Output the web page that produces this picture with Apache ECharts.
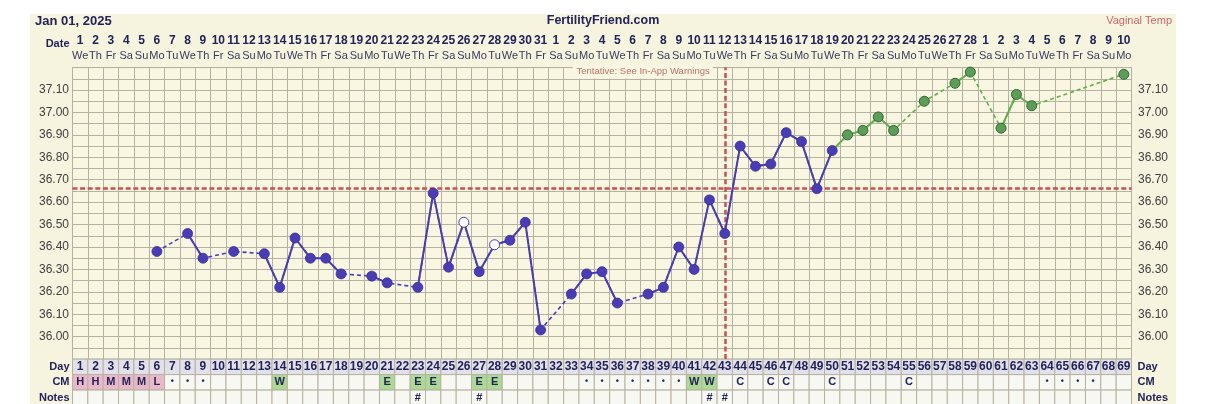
<!DOCTYPE html>
<html><head><meta charset="utf-8">
<script src="https://cdn.jsdelivr.net/npm/echarts@6/dist/echarts.min.js"></script>
<style>
html,body{margin:0;padding:0;background:#ffffff;}
#wrap{position:relative;width:1206px;height:404px;overflow:hidden;}
#panel{position:absolute;left:30px;top:13.5px;width:1146px;height:420px;background:#f6f3de;}
#c{position:absolute;left:0;top:0;width:1206px;height:404px;}
</style>
</head><body>
<div id="wrap"><div id="panel"></div><div id="c"></div></div>
<script>
// ---------- data ----------
const cycleDays = ['1','2','3','4','5','6','7','8','9','10','11','12','13','14','15','16','17','18','19','20','21','22','23','24','25','26','27','28','29','30','31','32','33','34','35','36','37','38','39','40','41','42','43','44','45','46','47','48','49','50','51','52','53','54','55','56','57','58','59','60','61','62','63','64','65','66','67','68','69'];
const dateLabels = ['1','2','3','4','5','6','7','8','9','10','11','12','13','14','15','16','17','18','19','20','21','22','23','24','25','26','27','28','29','30','31','1','2','3','4','5','6','7','8','9','10','11','12','13','14','15','16','17','18','19','20','21','22','23','24','25','26','27','28','1','2','3','4','5','6','7','8','9','10'];
const weekdayLabels = ['We','Th','Fr','Sa','Su','Mo','Tu','We','Th','Fr','Sa','Su','Mo','Tu','We','Th','Fr','Sa','Su','Mo','Tu','We','Th','Fr','Sa','Su','Mo','Tu','We','Th','Fr','Sa','Su','Mo','Tu','We','Th','Fr','Sa','Su','Mo','Tu','We','Th','Fr','Sa','Su','Mo','Tu','We','Th','Fr','Sa','Su','Mo','Tu','We','Th','Fr','Sa','Su','Mo','Tu','We','Th','Fr','Sa','Su','Mo'];
const temps = [null,null,null,null,null,36.38,null,36.46,36.35,null,36.38,null,36.37,36.22,36.44,36.35,36.35,36.28,null,36.27,36.24,null,36.22,36.64,36.31,36.51,36.29,36.41,36.43,36.51,36.03,null,36.19,36.28,36.29,36.15,null,36.19,36.22,36.40,36.30,36.61,36.46,36.85,36.76,36.77,36.91,36.87,36.66,36.83,36.90,36.92,36.98,36.92,null,37.05,null,37.13,37.18,null,36.93,37.08,37.03,null,null,null,null,null,37.17];
const openDays = ['26','28'];
const greenStartDay = '50';
const coverline = 36.665;
const ovulationDay = '43';
const tempTickLabels = ['36.00','36.10','36.20','36.30','36.40','36.50','36.60','36.70','36.80','36.90','37.00','37.10'];
const tableRowNames = ['Day','CM','Notes'];
const cmCodes = ['H','H','M','M','M','L','•','•','•','','','','','W','','','','','','','E','','E','E','','','E','E','','','','','','•','•','•','•','•','•','•','W','W','','C','','C','C','','','C','','','','','C','','','','','','','','','•','•','•','•',''];
const noteMarks = ['','','','','','','','','','','','','','','','','','','','','','','#','','','','#','','','','','','','','','','','','','','','#','#','','','','','','','','','','','','','','','','','','','','','','','','','',''];

// ---------- styles ----------
const FONT = '"Liberation Sans", Arial, sans-serif';
const NAVY = '#23235a';
const PURPLE = '#4a3cb6';
const GREEN_LINE = '#62b04c';
const GREEN_PT = '#5c9d57';
const RED = '#c9524f';
const GRIDC = '#b5b2a2';
const pinkCodes = ['H','M','L'];
const greenCodes = ['W','E'];

const chart = echarts.init(document.getElementById('c'), null, {renderer:'canvas'});

const gIdx = cycleDays.indexOf(greenStartDay);
const purpleVals = temps.map((v,i)=> i<=gIdx ? v : null);
const greenVals = temps.map((v,i)=> i>=gIdx ? v : null);
const purpleData = purpleVals.map((v,i)=> {
  if (v === null) return null;
  if (openDays.includes(cycleDays[i])) return {value:v, itemStyle:{color:'#ffffff', borderColor:PURPLE, borderWidth:1}};
  return v;
});
const greenData = greenVals.map((v,i)=> {
  if (v === null) return null;
  if (i === gIdx) return {value:v, symbol:'none'};
  return v;
});

const tableData = [];
for (let r=0;r<tableRowNames.length;r++) for (let i=0;i<cycleDays.length;i++) tableData.push([i,r]);
const rowTexts = [cycleDays, cmCodes, noteMarks];

function yFmt(v){ const s=(Math.round(v*100)/100).toFixed(2); return tempTickLabels.includes(s)?s:''; }

const option = {
  backgroundColor:'transparent',
  animation:false,
  title:[
    {text:'Jan 01, 2025', left:35, top:15, padding:0, textStyle:{fontFamily:FONT, fontSize:13, fontWeight:'bold', color:NAVY}},
    {text:'FertilityFriend.com', left:'center', top:14.5, padding:0, textStyle:{fontFamily:FONT, fontSize:12.5, fontWeight:'bold', color:NAVY}},
    {text:'Vaginal Temp', right:34, top:15, padding:0, textStyle:{fontFamily:FONT, fontSize:11, fontWeight:'normal', color:'#c86a66'}}
  ],
  grid:[
    {left:72.5, top:67.6, width:1059, height:291.5, show:true, backgroundColor:'#f9f6e2', borderColor:GRIDC, borderWidth:1, containLabel:false, outerBoundsMode:'none'},
    {left:72.5, top:359.1, width:1059, height:46.5, show:false, containLabel:false, outerBoundsMode:'none'}
  ],
  xAxis:[
    {type:'category', gridIndex:0, data:cycleDays, position:'bottom', boundaryGap:true,
     axisLine:{show:false}, axisTick:{show:false}, axisLabel:{show:false},
     splitLine:{show:true, interval:0, lineStyle:{color:GRIDC, width:1}}},
    {type:'category', gridIndex:0, data:dateLabels, position:'top', boundaryGap:true,
     axisLine:{show:false}, axisTick:{show:false}, splitLine:{show:false},
     axisLabel:{interval:0, margin:20.5, fontFamily:FONT, fontSize:12, fontWeight:'bold', color:NAVY}},
    {type:'category', gridIndex:0, data:weekdayLabels, position:'top', boundaryGap:true,
     axisLine:{show:false}, axisTick:{show:false}, splitLine:{show:false},
     axisLabel:{interval:0, margin:6, fontFamily:FONT, fontSize:11, color:'#3a3a5e'}},
    {type:'category', gridIndex:1, data:cycleDays, boundaryGap:true, show:false}
  ],
  yAxis:[
    {type:'value', gridIndex:0, min:35.9, max:37.2, interval:0.05, position:'left',
     axisLine:{show:false}, axisTick:{show:false},
     axisLabel:{margin:3.5, formatter:yFmt, fontFamily:FONT, fontSize:12, color:'#3f3f3f'},
     splitLine:{show:true, lineStyle:{color:GRIDC, width:1}}},
    {type:'value', gridIndex:0, min:35.9, max:37.2, interval:0.05, position:'right',
     axisLine:{show:false}, axisTick:{show:false},
     axisLabel:{margin:6.5, formatter:yFmt, fontFamily:FONT, fontSize:12, color:'#3f3f3f'},
     splitLine:{show:false}},
    {type:'category', gridIndex:1, data:tableRowNames, inverse:true, position:'left',
     axisLine:{show:false}, axisTick:{show:false}, splitLine:{show:false},
     axisLabel:{margin:3, fontFamily:FONT, fontSize:11, fontWeight:'bold', color:NAVY}},
    {type:'category', gridIndex:1, data:tableRowNames, inverse:true, position:'right',
     axisLine:{show:false}, axisTick:{show:false}, splitLine:{show:false},
     axisLabel:{margin:6, fontFamily:FONT, fontSize:11, fontWeight:'bold', color:NAVY}}
  ],
  series:[
    {name:'greenDash', type:'line', xAxisIndex:0, yAxisIndex:0, data:greenVals, connectNulls:true,
     symbol:'none', showSymbol:false, silent:true, z:2,
     lineStyle:{color:GREEN_LINE, width:1.6, type:[4,3]}},
    {name:'green', type:'line', xAxisIndex:0, yAxisIndex:0, data:greenData, connectNulls:false,
     symbol:'circle', symbolSize:10, showAllSymbol:true, silent:true, z:3,
     itemStyle:{color:GREEN_PT, borderColor:'#2f6a2f', borderWidth:1},
     lineStyle:{color:GREEN_LINE, width:2}},
    {name:'purpleDash', type:'line', xAxisIndex:0, yAxisIndex:0, data:purpleVals, connectNulls:true,
     symbol:'none', showSymbol:false, silent:true, z:4,
     lineStyle:{color:PURPLE, width:1.6, type:[4,3]}},
    {name:'purple', type:'line', xAxisIndex:0, yAxisIndex:0, data:purpleData, connectNulls:false,
     symbol:'circle', symbolSize:10, showAllSymbol:true, silent:true, z:5,
     itemStyle:{color:PURPLE, borderColor:'#3a2d9a', borderWidth:0.8},
     lineStyle:{color:PURPLE, width:2}},
    {name:'marks', type:'line', xAxisIndex:0, yAxisIndex:0, data:[], z:10, silent:true,
     markLine:{silent:true, symbol:['none','none'], label:{show:false}, animation:false,
       lineStyle:{color:RED, width:2.5, type:[5,2.6]},
       data:[{yAxis:coverline},{xAxis:ovulationDay}]}},
    {name:'table', type:'custom', xAxisIndex:3, yAxisIndex:2, data:tableData, silent:true, z:2,
     renderItem:function(params, api){
       const xi = api.value(0), ri = api.value(1);
       const c = api.coord([xi, ri]);
       const s = api.size([1, 1]);
       const txt = rowTexts[ri][xi];
       let fill = '#f8f8f2';
       if (ri === 0) fill = '#e2e1ea';
       else if (ri === 1 && pinkCodes.includes(txt)) fill = '#e9b9ca';
       else if (ri === 1 && greenCodes.includes(txt)) fill = '#acd994';
       const isDot = txt === '•';
       return {type:'group', children:[
         {type:'rect', shape:{x:c[0]-s[0]/2, y:c[1]-s[1]/2, width:s[0], height:s[1]},
          style:{fill:fill, stroke:GRIDC, lineWidth:1}},
         {type:'text', style:{text:txt, x:c[0], y:c[1] + (isDot?-1:0), align:'center', verticalAlign:'middle',
          font:'bold ' + (isDot?9:(ri===0?12:11)) + 'px ' + FONT, fill:NAVY}}
       ]};
     }}
  ],
  graphic:[
    {type:'text', id:'dateLbl', x:69.5, y:44, style:{text:'Date', align:'right', verticalAlign:'middle', font:'bold 11px ' + FONT, fill:NAVY}}
  ]
};
chart.setOption(option);

const vx = chart.convertToPixel({xAxisIndex:0}, ovulationDay);
chart.setOption({graphic:[
  {type:'text', id:'tent', x:vx-12, y:71.5, z:50,
   style:{text:'Tentative: See In-App Warnings', align:'right', verticalAlign:'middle',
     font:'9.5px ' + FONT, fill:'#c0706a', backgroundColor:'#f9f6e2', padding:[2,3,2,4]}}
]});
</script>
</body></html>
